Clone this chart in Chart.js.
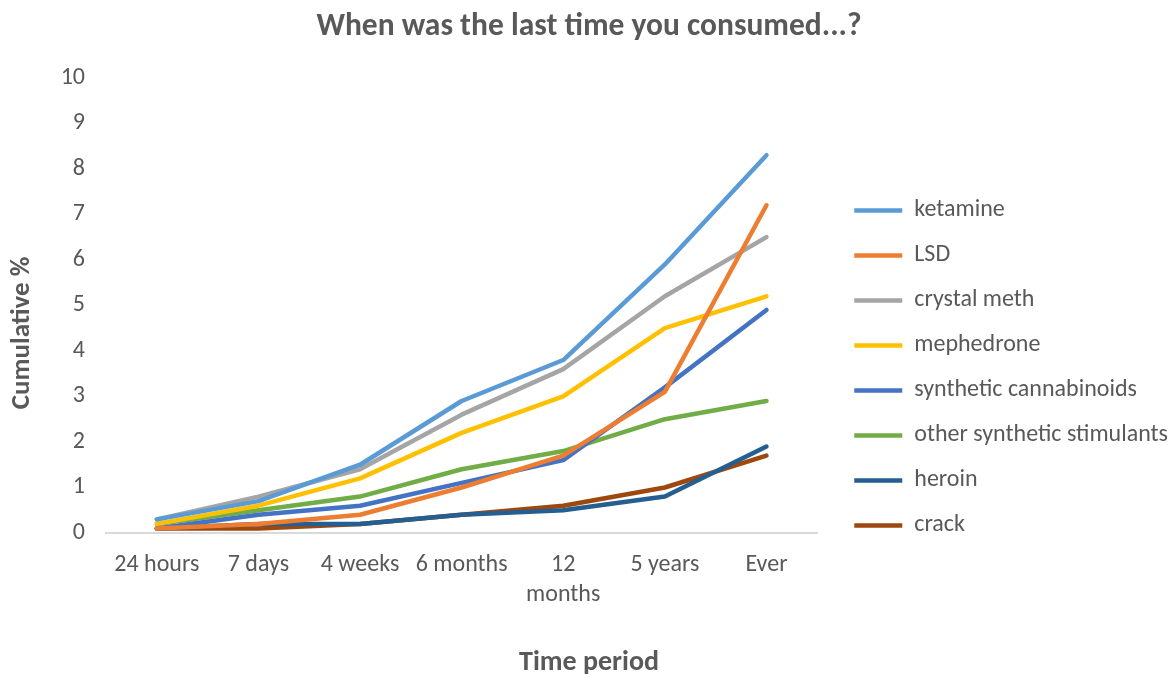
<!DOCTYPE html>
<html>
<head>
<meta charset="utf-8">
<script src="https://cdn.jsdelivr.net/npm/chart.js@4/dist/chart.umd.min.js"></script>
<style>
  body { margin: 0; background: #fff; }
  #wrap { width: 1170px; height: 677px; }
</style>
</head>
<body>
<div id="wrap"><canvas id="drug-canvas" width="1170" height="677"></canvas></div>
<script>
// categories and series
var periods = ["24 hours", "7 days", "4 weeks", "6 months", ["12", "months"], "5 years", "Ever"];
var ketamine = [0.3, 0.7, 1.5, 2.9, 3.8, 5.9, 8.3];
var lsd = [0.1, 0.2, 0.4, 1.0, 1.7, 3.1, 7.2];
var crystalMeth = [0.3, 0.8, 1.4, 2.6, 3.6, 5.2, 6.5];
var mephedrone = [0.2, 0.6, 1.2, 2.2, 3.0, 4.5, 5.2];
var syntheticCannabinoids = [0.1, 0.4, 0.6, 1.1, 1.6, 3.2, 4.9];
var otherStimulants = [0.2, 0.5, 0.8, 1.4, 1.8, 2.5, 2.9];
var heroin = [0.1, 0.2, 0.2, 0.4, 0.5, 0.8, 1.9];
var crack = [0.1, 0.1, 0.2, 0.4, 0.6, 1.0, 1.7];
var yTicks = [0, 1, 2, 3, 4, 5, 6, 7, 8, 9, 10];

var textColor = '#595959';
var fontName = 'Carlito, Calibri, Lato, sans-serif';

function series(label, values, color) {
  return {
    label: label,
    data: values,
    borderColor: color,
    backgroundColor: color,
    borderWidth: 4.5,
    borderCapStyle: 'round',
    borderJoinStyle: 'round',
    pointRadius: 0,
    pointHoverRadius: 0,
    pointStyle: 'line',
    tension: 0,
    fill: false
  };
}

var chartData = {
  labels: periods,
  datasets: [
    series('ketamine', ketamine, '#5B9BD5'),
    series('LSD', lsd, '#ED7D31'),
    series('crystal meth', crystalMeth, '#A5A5A5'),
    series('mephedrone', mephedrone, '#FFC000'),
    series('synthetic cannabinoids', syntheticCannabinoids, '#4472C4'),
    series('other synthetic stimulants', otherStimulants, '#70AD47'),
    series('heroin', heroin, '#255E91'),
    series('crack', crack, '#9E480E')
  ]
};

var config = {
  type: 'line',
  data: chartData,
  options: {
    responsive: false,
    animation: false,
    layout: { padding: { left: 0, right: -8, top: 0, bottom: 0 } },
    plugins: {
      title: {
        display: true,
        text: 'When was the last time you consumed...?',
        color: textColor,
        font: { family: fontName, size: 31.5, weight: 'bold' },
        padding: { top: 8, bottom: 32 }
      },
      // x axis caption sits under the whole chart, not just the plot
      subtitle: {
        display: true,
        position: 'bottom',
        text: 'Time period',
        color: textColor,
        font: { family: fontName, size: 28, weight: 'bold', lineHeight: 1 },
        padding: { top: 0, bottom: 0 }
      },
      legend: {
        position: 'right',
        align: 'start',
        maxWidth: 400,
        title: { display: true, text: ' ', padding: { top: 163, bottom: 0 } },
        labels: {
          usePointStyle: true,
          pointStyle: 'line',
          pointStyleWidth: 48,
          boxHeight: 10,
          color: textColor,
          padding: 21,
          font: { family: fontName, size: 24 }
        }
      },
      tooltip: { enabled: false }
    },
    scales: {
      x: {
        offset: true,
        afterFit: function (axis) { axis.height = 116; },
        grid: { display: false, drawTicks: false },
        border: { display: true, color: '#D9D9D9', width: 2 },
        ticks: {
          color: textColor,
          font: { family: fontName, size: 24, lineHeight: 1.25 },
          padding: 17,
          maxRotation: 0,
          autoSkip: false
        }
      },
      y: {
        min: 0,
        max: 10,
        afterFit: function (axis) { axis.width = 106; },
        afterBuildTicks: function (axis) {
          axis.ticks = yTicks.map(function (v) { return { value: v }; });
        },
        grid: { display: false, drawTicks: false },
        border: { display: false },
        ticks: {
          color: textColor,
          font: { family: fontName, size: 24 },
          padding: 21
        },
        title: {
          display: true,
          text: 'Cumulative %         ',
          color: textColor,
          font: { family: fontName, size: 27, weight: 'bold' },
          padding: { top: 6, bottom: 10 }
        }
      },
      // empty right-hand axis: only keeps the gap between plot and legend
      gap: {
        type: 'linear',
        position: 'right',
        afterFit: function (axis) { axis.width = 16; },
        grid: { display: false, drawTicks: false },
        border: { display: false },
        ticks: { display: false }
      }
    }
  }
};

var myChart = new Chart(document.querySelector('#drug-canvas'), config);
</script>
</body>
</html>
